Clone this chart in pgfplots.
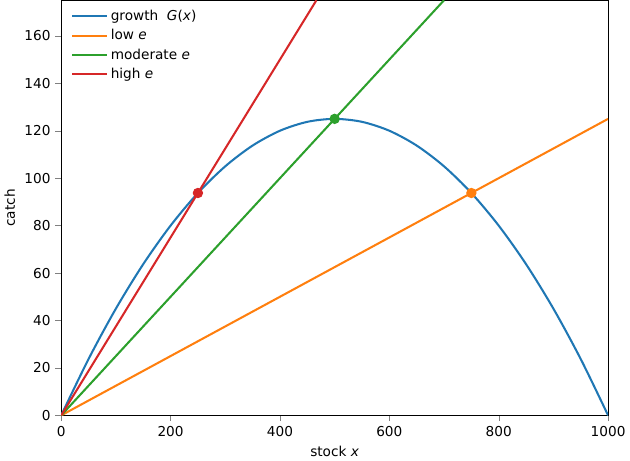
\documentclass[border=0pt]{standalone}
\usepackage{pgfplots}
\pgfplotsset{compat=1.18}
\usepackage{fontspec}
\setmainfont{DejaVu Sans}
\definecolor{tb}{HTML}{1F77B4}
\definecolor{to}{HTML}{FF7F0E}
\definecolor{tg}{HTML}{2CA02C}
\definecolor{tr}{HTML}{D62728}
\begin{document}
\begin{tikzpicture}
\begin{axis}[
  scale only axis, width=400.5pt, height=304pt,
  xmin=0, xmax=1000, ymin=0, ymax=175,
  xtick={0,200,...,1000}, ytick={0,20,...,160},
  /pgf/number format/assume math mode=true,
  /pgf/number format/1000 sep={},
  tick label style={font=\fontsize{10}{12}\selectfont},
  label style={font=\fontsize{10}{12}\selectfont},
  xlabel={stock \textit{x}}, ylabel={catch},
  tick align=outside, tick pos=left,
  clip=true,
  legend style={at={(0.01,0.99)}, anchor=north west, draw=none, fill=none, font=\fontsize{10}{12}\selectfont, row sep=1pt},
  legend image post style={xscale=1.5},
  legend cell align=left,
  every axis plot/.append style={line width=1.5pt},
]
\addplot[tb, smooth] coordinates {(0,0)(50,23.75)(100,45)(150,63.75)(200,80)(250,93.75)(300,105)(350,113.75)(400,120)(450,123.75)(500,125)(550,123.75)(600,120)(650,113.75)(700,105)(750,93.75)(800,80)(850,63.75)(900,45)(950,23.75)(1000,0)};
\addlegendentry{growth\ \ \textit{G}(\textit{x})}
\addplot[to] coordinates {(0,0)(1000,125)};
\addlegendentry{low \textit{e}}
\addplot[tg] coordinates {(0,0)(700,175)};
\addlegendentry{moderate \textit{e}}
\addplot[tr] coordinates {(0,0)(466.667,175)};
\addlegendentry{high \textit{e}}
\addplot[to, only marks, mark=*, mark size=3pt, forget plot] coordinates {(750,93.75)};
\addplot[tg, only marks, mark=*, mark size=3pt, forget plot] coordinates {(500,125)};
\addplot[tr, only marks, mark=*, mark size=3pt, forget plot] coordinates {(250,93.75)};
\end{axis}
\end{tikzpicture}
\end{document}
